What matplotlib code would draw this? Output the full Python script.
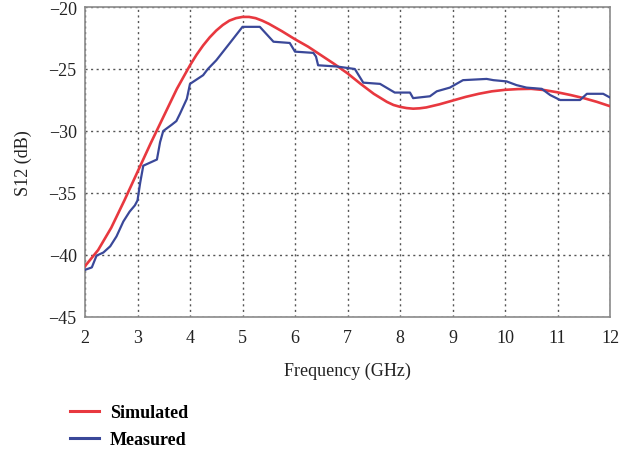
import matplotlib
matplotlib.use("Agg")
import matplotlib.pyplot as plt
from matplotlib.lines import Line2D

# Simulated S12 (smooth)
sim_f = [2.0, 2.25, 2.5, 2.75, 3.0, 3.25, 3.5, 3.75, 4.0, 4.125, 4.25, 4.375,
         4.5, 4.625, 4.75, 4.875, 5.0, 5.125, 5.25, 5.375, 5.5, 5.75, 6.0,
         6.25, 6.5, 6.75, 7.0, 7.25, 7.5, 7.75, 7.875, 8.0, 8.125, 8.25, 8.375,
         8.5, 8.75, 9.0, 9.25, 9.5, 9.75, 10.0, 10.25, 10.5, 10.75, 11.0,
         11.25, 11.5, 11.75, 12.0]
sim_s = [-40.9, -39.6, -37.8, -35.6, -33.3, -31.0, -28.8, -26.6, -24.7, -23.85,
         -23.1, -22.45, -21.9, -21.45, -21.1, -20.9, -20.8, -20.8, -20.9,
         -21.1, -21.35, -21.95, -22.6, -23.2, -23.9, -24.6, -25.35, -26.2,
         -27.0, -27.65, -27.9, -28.05, -28.15, -28.2, -28.17, -28.1, -27.85,
         -27.55, -27.25, -27.0, -26.8, -26.68, -26.62, -26.6, -26.7, -26.88,
         -27.1, -27.35, -27.65, -28.0]

# Measured S12 (stepped)
meas_f = [2.0, 2.13, 2.22, 2.35, 2.48, 2.6, 2.73, 2.85, 2.95, 3.0, 3.05, 3.11,
          3.37, 3.43, 3.49, 3.65, 3.74, 3.81, 3.94, 4.0, 4.25, 4.34, 4.5, 4.76,
          5.0, 5.33, 5.59, 5.9, 6.0, 6.35, 6.4, 6.44, 6.8, 7.14, 7.3, 7.62, 7.9,
          8.19, 8.25, 8.57, 8.7, 8.95, 9.2, 9.65, 9.78, 10.03, 10.22, 10.41,
          10.7, 10.86, 11.05, 11.43, 11.56, 11.87, 12.0]
meas_s = [-41.2, -41.0, -40.05, -39.8, -39.3, -38.5, -37.3, -36.5, -36.0, -35.6,
          -34.2, -32.8, -32.3, -30.9, -30.0, -29.5, -29.2, -28.6, -27.4, -26.2,
          -25.5, -25.0, -24.3, -22.9, -21.6, -21.6, -22.8, -22.9, -23.6, -23.7,
          -24.0, -24.7, -24.8, -25.0, -26.1, -26.2, -26.9, -26.9, -27.35, -27.2,
          -26.8, -26.5, -25.9, -25.8, -25.9, -26.0, -26.3, -26.5, -26.6, -27.1,
          -27.5, -27.5, -27.0, -27.0, -27.3]

x_ticks = [2, 3, 4, 5, 6, 7, 8, 9, 10, 11, 12]
y_ticks = [-45, -40, -35, -30, -25, -20]

RED = "#E8383F"
BLUE = "#3A4899"

plt.rcParams["font.family"] = ["Liberation Serif", "DejaVu Serif"]

fig = plt.figure(figsize=(6.35, 4.56), dpi=100)
ax = fig.add_axes([85/635, 1-318/456, 525/635, 310/456])

ax.plot(sim_f, sim_s, color=RED, lw=1.9, zorder=3, solid_joinstyle="round")
ax.plot(meas_f, meas_s, color=BLUE, lw=1.6, zorder=4)

ax.set_xlim(2, 12)
ax.set_ylim(-45, -20)
ax.set_xticks(x_ticks)
ax.set_yticks(y_ticks)
ax.grid(True, color="#555555", linestyle=(0, (1.5, 2.5)), linewidth=1.0)
ax.tick_params(direction="in", length=0, labelsize=13, colors="#222222")
ax.tick_params(axis="x", pad=9)
ax.tick_params(axis="y", pad=6)
for s in ax.spines.values():
    s.set_color("#8a8a8a")
    s.set_linewidth(1.2)

ax.set_xlabel("Frequency (GHz)", fontsize=13, color="#222222", labelpad=11)
ax.set_ylabel("S12 (dB)", fontsize=13, color="#222222", labelpad=12)

handles = [Line2D([], [], color=RED, lw=2.2), Line2D([], [], color=BLUE, lw=2.2)]
fig.legend(handles, ["Simulated", "Measured"], loc="upper left",
           bbox_to_anchor=(70/635, 1-405/456), frameon=False,
           prop={"weight": "bold", "size": 13}, handlelength=1.6,
           labelspacing=0.55, handletextpad=0.6, borderaxespad=0,
           borderpad=0)

fig.savefig("out.png", dpi=100)
